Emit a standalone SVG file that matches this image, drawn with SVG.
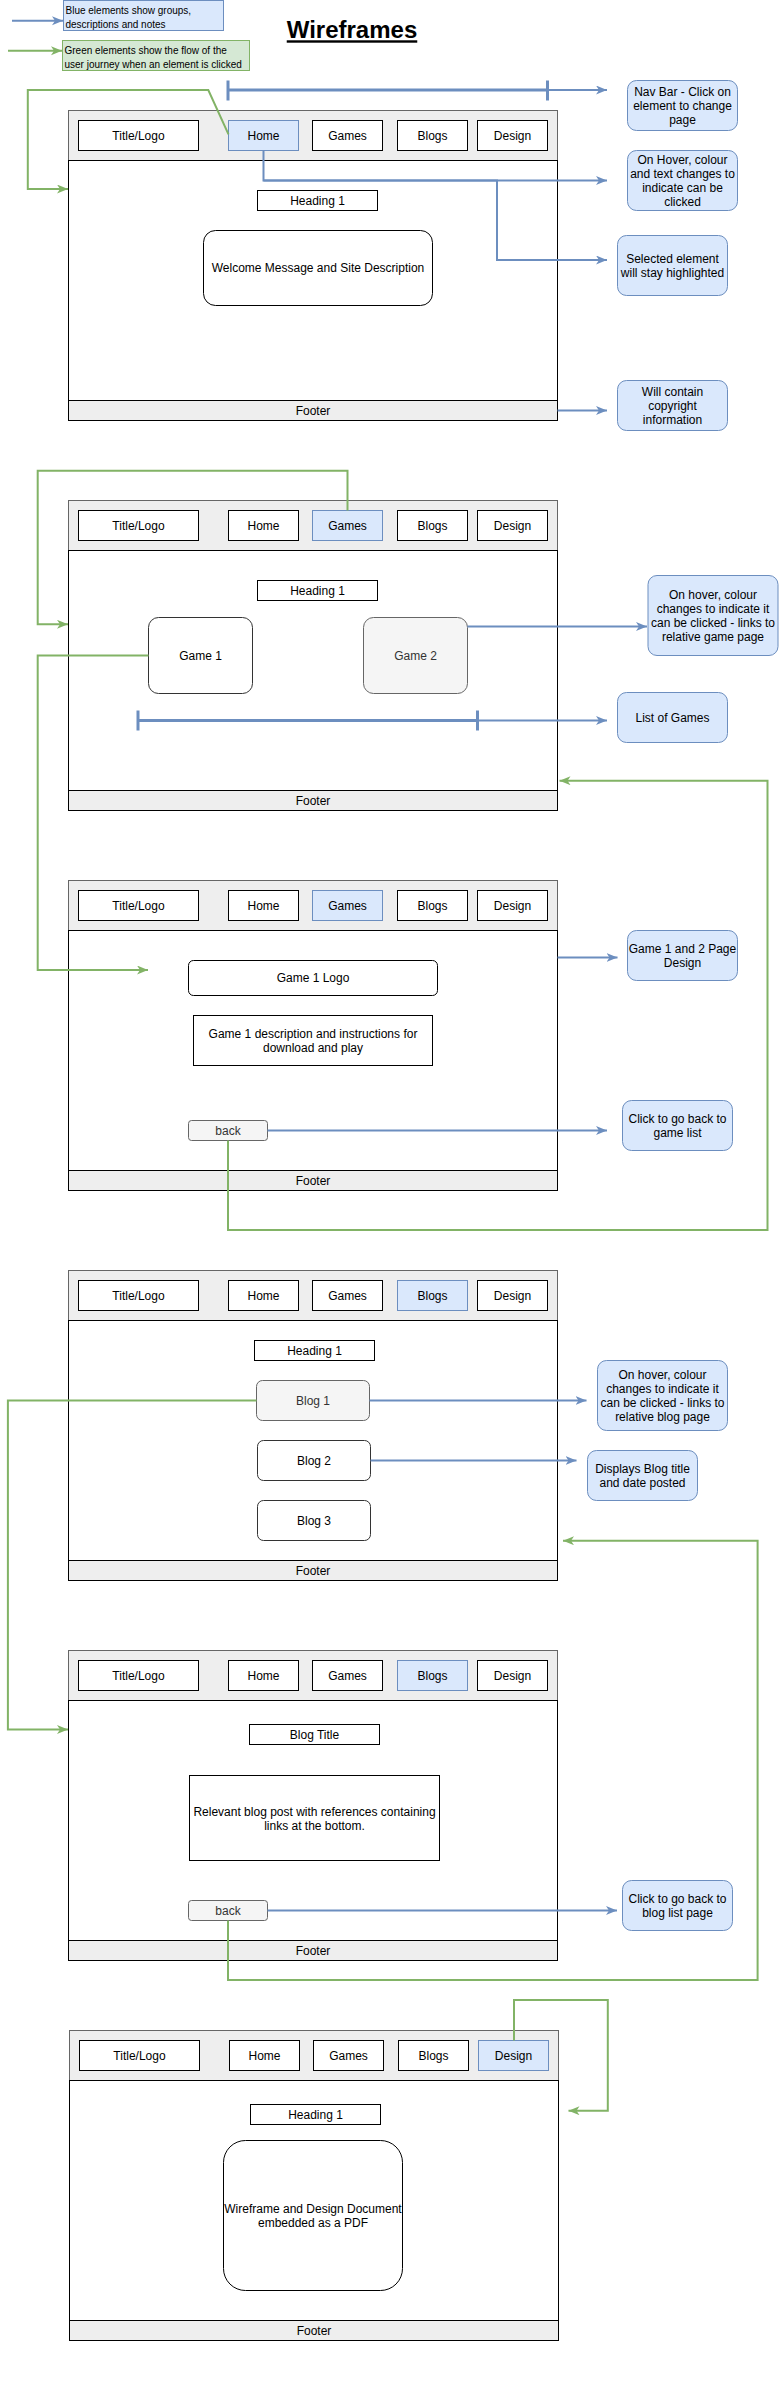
<svg xmlns="http://www.w3.org/2000/svg" width="779" height="2386" viewBox="0 0 779 2386">
<style>
.nav{fill:#eeeeee;stroke:#666666;stroke-width:1}
.body{fill:#ffffff;stroke:#000000;stroke-width:1}
.foot{fill:#eeeeee;stroke:#000000;stroke-width:1}
.item{fill:#ffffff;stroke:#000000;stroke-width:1}
.sel{fill:#dae8fc;stroke:#6c8ebf;stroke-width:1}
.note{fill:#dae8fc;stroke:#6c8ebf;stroke-width:1}
.leg-b{fill:#dae8fc;stroke:#6c8ebf;stroke-width:1}
.leg-g{fill:#d5e8d4;stroke:#82b366;stroke-width:1}
.card{fill:#ffffff;stroke:#333333;stroke-width:1}
.gray{fill:#f5f5f5;stroke:#666666;stroke-width:1}
.t{font-family:"Liberation Sans",Arial,sans-serif;font-size:12px;text-anchor:middle;fill:#000000}
.tl{font-family:"Liberation Sans",Arial,sans-serif;font-size:10px;fill:#000000}
.tg{fill:#333333}
.blue{fill:none;stroke:#6c8ebf;stroke-width:2;marker-end:url(#ab)}
.green{fill:none;stroke:#82b366;stroke-width:2;marker-end:url(#ag)}
.bar{fill:none;stroke:#6c8ebf;stroke-width:3}
</style>
<defs>
<marker id="ab" markerUnits="userSpaceOnUse" markerWidth="12" markerHeight="10" refX="11" refY="4.5" orient="auto"><path d="M0,0 L11,4.5 L0,9 L3,4.5 Z" fill="#6c8ebf"/></marker>
<marker id="ag" markerUnits="userSpaceOnUse" markerWidth="12" markerHeight="10" refX="11" refY="4.5" orient="auto"><path d="M0,0 L11,4.5 L0,9 L3,4.5 Z" fill="#82b366"/></marker>
</defs>
<rect x="0" y="0" width="779" height="2386" fill="#ffffff"/>

<g id="legend-blue"><rect class="leg-b" x="63.5" y="0.5" width="160" height="30"/><text class="tl" x="65.5" y="13.5">Blue elements show groups,</text><text class="tl" x="65.5" y="27.5">descriptions and notes</text></g>
<g id="legend-green"><rect class="leg-g" x="62.5" y="40.5" width="187" height="30"/><text class="tl" x="64.5" y="53.5">Green elements show the flow of the</text><text class="tl" x="64.5" y="67.5">user journey when an element is clicked</text></g>
<g id="title"><text x="352" y="38.3" font-family="'Liberation Sans',Arial,sans-serif" font-size="24" font-weight="bold" text-anchor="middle" text-decoration="underline">Wireframes</text></g>

<!-- Page 1: Home -->
<g id="page-home" transform="translate(0,110.5)">
<rect class="nav" x="68.5" y="0" width="489" height="50"/>
<rect class="body" x="68.5" y="50" width="489" height="240"/>
<rect class="foot" x="68.5" y="290" width="489" height="20"/>
<text class="t" x="313" y="304.2">Footer</text>
<g id="p1-title"><rect class="item" x="78.5" y="10" width="120" height="30"/><text class="t" x="138.5" y="29.2">Title/Logo</text></g>
<g id="p1-home"><rect class="sel" x="228.5" y="10" width="70" height="30"/><text class="t" x="263.5" y="29.2">Home</text></g>
<g id="p1-games"><rect class="item" x="312.5" y="10" width="70" height="30"/><text class="t" x="347.5" y="29.2">Games</text></g>
<g id="p1-blogs"><rect class="item" x="397.5" y="10" width="70" height="30"/><text class="t" x="432.5" y="29.2">Blogs</text></g>
<g id="p1-design"><rect class="item" x="477.5" y="10" width="70" height="30"/><text class="t" x="512.5" y="29.2">Design</text></g>
<g id="p1-heading"><rect class="item" x="257.5" y="80" width="120" height="20"/><text class="t" x="317.5" y="94.2">Heading 1</text></g>
<g id="p1-welcome"><rect class="item" x="203.5" y="120" width="229" height="75" rx="12"/><text class="t" x="318" y="161.7">Welcome Message and Site Description</text></g>
</g>

<!-- Page 2: Games list -->
<g id="page-games" transform="translate(0,500.5)">
<rect class="nav" x="68.5" y="0" width="489" height="50"/>
<rect class="body" x="68.5" y="50" width="489" height="240"/>
<rect class="foot" x="68.5" y="290" width="489" height="20"/>
<text class="t" x="313" y="304.2">Footer</text>
<g id="p2-title"><rect class="item" x="78.5" y="10" width="120" height="30"/><text class="t" x="138.5" y="29.2">Title/Logo</text></g>
<g id="p2-home"><rect class="item" x="228.5" y="10" width="70" height="30"/><text class="t" x="263.5" y="29.2">Home</text></g>
<g id="p2-games"><rect class="sel" x="312.5" y="10" width="70" height="30"/><text class="t" x="347.5" y="29.2">Games</text></g>
<g id="p2-blogs"><rect class="item" x="397.5" y="10" width="70" height="30"/><text class="t" x="432.5" y="29.2">Blogs</text></g>
<g id="p2-design"><rect class="item" x="477.5" y="10" width="70" height="30"/><text class="t" x="512.5" y="29.2">Design</text></g>
<g id="p2-heading"><rect class="item" x="257.5" y="80" width="120" height="20"/><text class="t" x="317.5" y="94.2">Heading 1</text></g>
<g id="p2-game1"><rect class="card" x="148.5" y="117" width="104" height="76" rx="10"/><text class="t" x="200.5" y="159.2">Game 1</text></g>
<g id="p2-game2"><rect class="gray" x="363.5" y="117" width="104" height="76" rx="10"/><text class="t tg" x="415.5" y="159.2">Game 2</text></g>
</g>

<!-- Page 3: Game page -->
<g id="page-game1" transform="translate(0,880.5)">
<rect class="nav" x="68.5" y="0" width="489" height="50"/>
<rect class="body" x="68.5" y="50" width="489" height="240"/>
<rect class="foot" x="68.5" y="290" width="489" height="20"/>
<text class="t" x="313" y="304.2">Footer</text>
<g id="p3-title"><rect class="item" x="78.5" y="10" width="120" height="30"/><text class="t" x="138.5" y="29.2">Title/Logo</text></g>
<g id="p3-home"><rect class="item" x="228.5" y="10" width="70" height="30"/><text class="t" x="263.5" y="29.2">Home</text></g>
<g id="p3-games"><rect class="sel" x="312.5" y="10" width="70" height="30"/><text class="t" x="347.5" y="29.2">Games</text></g>
<g id="p3-blogs"><rect class="item" x="397.5" y="10" width="70" height="30"/><text class="t" x="432.5" y="29.2">Blogs</text></g>
<g id="p3-design"><rect class="item" x="477.5" y="10" width="70" height="30"/><text class="t" x="512.5" y="29.2">Design</text></g>
<g id="p3-logo"><rect class="item" x="188.5" y="80" width="249" height="35" rx="5"/><text class="t" x="313" y="101.7">Game 1 Logo</text></g>
<g id="p3-desc"><rect class="item" x="193.5" y="135" width="239" height="50"/><text class="t" x="313" y="157.4">Game 1 description and instructions for</text><text class="t" x="313" y="171.4">download and play</text></g>
<g id="p3-back"><rect class="gray" x="188.5" y="240" width="79" height="20" rx="3"/><text class="t tg" x="228" y="254.2">back</text></g>
</g>

<!-- Page 4: Blogs list -->
<g id="page-blogs" transform="translate(0,1270.5)">
<rect class="nav" x="68.5" y="0" width="489" height="50"/>
<rect class="body" x="68.5" y="50" width="489" height="240"/>
<rect class="foot" x="68.5" y="290" width="489" height="20"/>
<text class="t" x="313" y="304.2">Footer</text>
<g id="p4-title"><rect class="item" x="78.5" y="10" width="120" height="30"/><text class="t" x="138.5" y="29.2">Title/Logo</text></g>
<g id="p4-home"><rect class="item" x="228.5" y="10" width="70" height="30"/><text class="t" x="263.5" y="29.2">Home</text></g>
<g id="p4-games"><rect class="item" x="312.5" y="10" width="70" height="30"/><text class="t" x="347.5" y="29.2">Games</text></g>
<g id="p4-blogs"><rect class="sel" x="397.5" y="10" width="70" height="30"/><text class="t" x="432.5" y="29.2">Blogs</text></g>
<g id="p4-design"><rect class="item" x="477.5" y="10" width="70" height="30"/><text class="t" x="512.5" y="29.2">Design</text></g>
<g id="p4-heading"><rect class="item" x="254.5" y="70" width="120" height="20"/><text class="t" x="314.5" y="84.2">Heading 1</text></g>
<g id="p4-blog1"><rect class="gray" x="256.5" y="110" width="113" height="40" rx="6"/><text class="t tg" x="313" y="134.2">Blog 1</text></g>
<g id="p4-blog2"><rect class="card" x="257.5" y="170" width="113" height="40" rx="6"/><text class="t" x="314" y="194.2">Blog 2</text></g>
<g id="p4-blog3"><rect class="card" x="257.5" y="230" width="113" height="40" rx="6"/><text class="t" x="314" y="254.2">Blog 3</text></g>
</g>

<!-- Page 5: Blog post -->
<g id="page-blogpost" transform="translate(0,1650.5)">
<rect class="nav" x="68.5" y="0" width="489" height="50"/>
<rect class="body" x="68.5" y="50" width="489" height="240"/>
<rect class="foot" x="68.5" y="290" width="489" height="20"/>
<text class="t" x="313" y="304.2">Footer</text>
<g id="p5-title"><rect class="item" x="78.5" y="10" width="120" height="30"/><text class="t" x="138.5" y="29.2">Title/Logo</text></g>
<g id="p5-home"><rect class="item" x="228.5" y="10" width="70" height="30"/><text class="t" x="263.5" y="29.2">Home</text></g>
<g id="p5-games"><rect class="item" x="312.5" y="10" width="70" height="30"/><text class="t" x="347.5" y="29.2">Games</text></g>
<g id="p5-blogs"><rect class="sel" x="397.5" y="10" width="70" height="30"/><text class="t" x="432.5" y="29.2">Blogs</text></g>
<g id="p5-design"><rect class="item" x="477.5" y="10" width="70" height="30"/><text class="t" x="512.5" y="29.2">Design</text></g>
<g id="p5-blogtitle"><rect class="item" x="249.5" y="74" width="130" height="20"/><text class="t" x="314.5" y="88.2">Blog Title</text></g>
<g id="p5-post"><rect class="item" x="189.5" y="125" width="250" height="85"/><text class="t" x="314.5" y="165.7">Relevant blog post with references containing</text><text class="t" x="314.5" y="179.7">links at the bottom.</text></g>
<g id="p5-back"><rect class="gray" x="188.5" y="250" width="79" height="20" rx="3"/><text class="t tg" x="228" y="264.2">back</text></g>
</g>

<!-- Page 6: Design -->
<g id="page-design" transform="translate(1,2030.5)">
<rect class="nav" x="68.5" y="0" width="489" height="50"/>
<rect class="body" x="68.5" y="50" width="489" height="240"/>
<rect class="foot" x="68.5" y="290" width="489" height="20"/>
<text class="t" x="313" y="304.2">Footer</text>
<g id="p6-title"><rect class="item" x="78.5" y="10" width="120" height="30"/><text class="t" x="138.5" y="29.2">Title/Logo</text></g>
<g id="p6-home"><rect class="item" x="228.5" y="10" width="70" height="30"/><text class="t" x="263.5" y="29.2">Home</text></g>
<g id="p6-games"><rect class="item" x="312.5" y="10" width="70" height="30"/><text class="t" x="347.5" y="29.2">Games</text></g>
<g id="p6-blogs"><rect class="item" x="397.5" y="10" width="70" height="30"/><text class="t" x="432.5" y="29.2">Blogs</text></g>
<g id="p6-design"><rect class="sel" x="477.5" y="10" width="70" height="30"/><text class="t" x="512.5" y="29.2">Design</text></g>
<g id="p6-heading"><rect class="item" x="249.5" y="74" width="130" height="20"/><text class="t" x="314.5" y="88.2">Heading 1</text></g>
<g id="p6-doc"><rect class="item" x="222.5" y="110" width="179" height="150" rx="22"/><text class="t" x="312" y="182.4">Wireframe and Design Document</text><text class="t" x="312" y="196.4">embedded as a PDF</text></g>
</g>

<!-- Notes -->
<g id="note-navbar"><rect class="note" x="627.5" y="80.5" width="110" height="50" rx="9"/><text class="t" x="682.5" y="95.7">Nav Bar - Click on</text><text class="t" x="682.5" y="109.7">element to change</text><text class="t" x="682.5" y="123.7">page</text></g>
<g id="note-hover"><rect class="note" x="627.5" y="150.5" width="110" height="60" rx="9"/><text class="t" x="682.5" y="164.2">On Hover, colour</text><text class="t" x="682.5" y="178.2">and text changes to</text><text class="t" x="682.5" y="192.2">indicate can be</text><text class="t" x="682.5" y="206.2">clicked</text></g>
<g id="note-selected"><rect class="note" x="617.5" y="235.5" width="110" height="60" rx="9"/><text class="t" x="672.5" y="262.7">Selected element</text><text class="t" x="672.5" y="276.7">will stay highlighted</text></g>
<g id="note-footer"><rect class="note" x="617.5" y="380.5" width="110" height="50" rx="9"/><text class="t" x="672.5" y="395.9">Will contain</text><text class="t" x="672.5" y="409.9">copyright</text><text class="t" x="672.5" y="423.9">information</text></g>
<g id="note-game-hover"><rect class="note" x="648" y="575.5" width="130" height="80" rx="9"/><text class="t" x="713" y="599.2">On hover, colour</text><text class="t" x="713" y="613.2">changes to indicate it</text><text class="t" x="713" y="627.2">can be clicked - links to</text><text class="t" x="713" y="641.2">relative game page</text></g>
<g id="note-list-games"><rect class="note" x="617.5" y="692.5" width="110" height="50" rx="9"/><text class="t" x="672.5" y="722.4">List of Games</text></g>
<g id="note-game-page"><rect class="note" x="627.5" y="930.5" width="110" height="50" rx="9"/><text class="t" x="682.5" y="952.9">Game 1 and 2 Page</text><text class="t" x="682.5" y="966.9">Design</text></g>
<g id="note-back-games"><rect class="note" x="622.5" y="1100.5" width="110" height="50" rx="9"/><text class="t" x="677.5" y="1122.9">Click to go back to</text><text class="t" x="677.5" y="1136.9">game list</text></g>
<g id="note-blog-hover"><rect class="note" x="597.5" y="1360.5" width="130" height="70" rx="9"/><text class="t" x="662.5" y="1379.2">On hover, colour</text><text class="t" x="662.5" y="1393.2">changes to indicate it</text><text class="t" x="662.5" y="1407.2">can be clicked - links to</text><text class="t" x="662.5" y="1421.2">relative blog page</text></g>
<g id="note-blog-title"><rect class="note" x="587.5" y="1450.5" width="110" height="50" rx="9"/><text class="t" x="642.5" y="1473.2">Displays Blog title</text><text class="t" x="642.5" y="1487.2">and date posted</text></g>
<g id="note-back-blogs"><rect class="note" x="622.5" y="1880.5" width="110" height="50" rx="9"/><text class="t" x="677.5" y="1902.9">Click to go back to</text><text class="t" x="677.5" y="1916.9">blog list page</text></g>

<!-- Connectors -->
<g id="connectors">
<path class="blue" d="M12,20.7 H63"/>
<path class="green" d="M8,50.7 H62"/>
<path class="bar" d="M228,90 H547.5 M228,80.5 V100.5 M547.5,80.5 V100.5"/>
<path class="blue" d="M547.5,90 H607"/>
<path class="blue" d="M263.5,150.5 V180.5 H607"/>
<path class="blue" d="M263.5,180.5 H497 V260 H607"/>
<path class="blue" d="M557.5,410.5 H607"/>
<path class="green" d="M228.5,134.3 L208.3,90 H27.8 V189 H68"/>
<path class="green" d="M347.5,510.5 V470.7 H37.7 V624.3 H68"/>
<path class="blue" d="M467.5,626.5 H647"/>
<path class="bar" d="M138,720.5 H477.5 M138,710.5 V730.5 M477.5,710.5 V730.5"/>
<path class="blue" d="M477.5,720.5 H607"/>
<path class="green" d="M148.5,655.5 H37.7 V970 H148"/>
<path class="blue" d="M557.5,957.5 H617.5"/>
<path class="blue" d="M267.5,1130.5 H607"/>
<path class="green" d="M228,1140.5 V1230 H767.5 V780.7 H559.5"/>
<path class="blue" d="M369.5,1400.5 H586.5"/>
<path class="blue" d="M370.5,1460.5 H576.5"/>
<path class="green" d="M256.5,1400.5 H7.9 V1729.5 H68"/>
<path class="blue" d="M267.5,1910.5 H617"/>
<path class="green" d="M228,1920.5 V1980 H757.6 V1540.7 H563"/>
<path class="green" d="M514,2040.5 V2000 H607.8 V2110.7 H568.5"/>
</g>
</svg>
